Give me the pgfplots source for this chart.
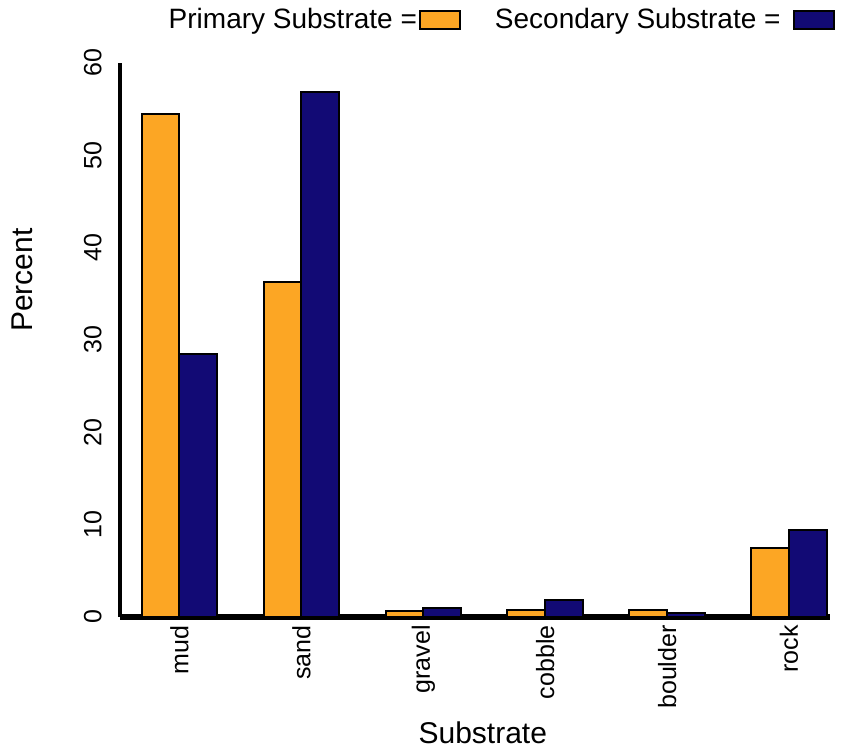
\documentclass[border=0pt]{standalone}
\usepackage{pgfplots}
\pgfplotsset{compat=1.18}
\usepackage{fontspec}
\setmainfont{Liberation Sans}
\definecolor{prim}{RGB}{252,166,36}
\definecolor{sec}{RGB}{18,10,117}
\begin{document}
\begin{tikzpicture}
\begin{axis}[
  name=ax,
  scale only axis,
  width=355pt, height=277pt,
  xmin=-0.488, xmax=5.336,
  ymin=0, ymax=60,
  axis x line=bottom, axis y line=left,
  x axis line style={-, line width=2.6pt},
  y axis line style={-, line width=2pt},
  major tick length=0pt,
  tick style={draw=none},
  xtick={0,1,2,3,4,5},
  xticklabels={mud,sand,gravel,cobble,boulder,rock},
  ytick={0,10,20,30,40,50,60},
  /pgf/number format/assume math mode=true,
  ticklabel style={font=\fontsize{12.5}{15}\selectfont},
  xticklabel style={rotate=90, anchor=east, inner sep=0pt},
  yticklabel style={rotate=90, anchor=south, inner sep=0pt},
  xticklabel shift=4pt,
  yticklabel shift=9pt,
  xlabel={Substrate},
  ylabel={Percent},
  label style={font=\fontsize{15}{18}\selectfont},
  xlabel style={at={(axis description cs:0.511,-0.209)}, anchor=center},
  ylabel style={at={(axis description cs:-0.138,0.608)}, anchor=center, rotate=0},
  ybar=0pt,
  bar width=0.31,
  legend plot pos=right,
  legend columns=2,
  legend style={at={(axis description cs:1.007,1.078)}, anchor=east,
    draw=none, fill=none, inner sep=0pt,
    font=\fontsize{14}{16}\selectfont,
    nodes={inner sep=1pt},
    /tikz/every even column/.append style={column sep=16pt}},
  legend image code/.code={\draw[#1, line width=1pt] (0pt,-4.5pt) rectangle (20pt,4.5pt);},
]
\addplot[fill=prim, draw=black, line width=1pt, bar shift=-0.155] coordinates {
  (0,54.5) (1,36.3) (2,0.6) (3,0.8) (4,0.8) (5,7.5)};
\addlegendentry{Primary Substrate =}
\addplot[fill=sec, draw=black, line width=1pt, bar shift=0.155] coordinates {
  (0,28.5) (1,56.9) (2,1.0) (3,1.8) (4,0.4) (5,9.4)};
\addlegendentry{Secondary Substrate =\hspace*{5pt}}
\end{axis}
\pgfresetboundingbox
\path[use as bounding box] ([xshift=-60pt,yshift=-67pt]ax.south west) rectangle ([xshift=5.5pt,yshift=31.5pt]ax.north east);
\end{tikzpicture}
\end{document}
